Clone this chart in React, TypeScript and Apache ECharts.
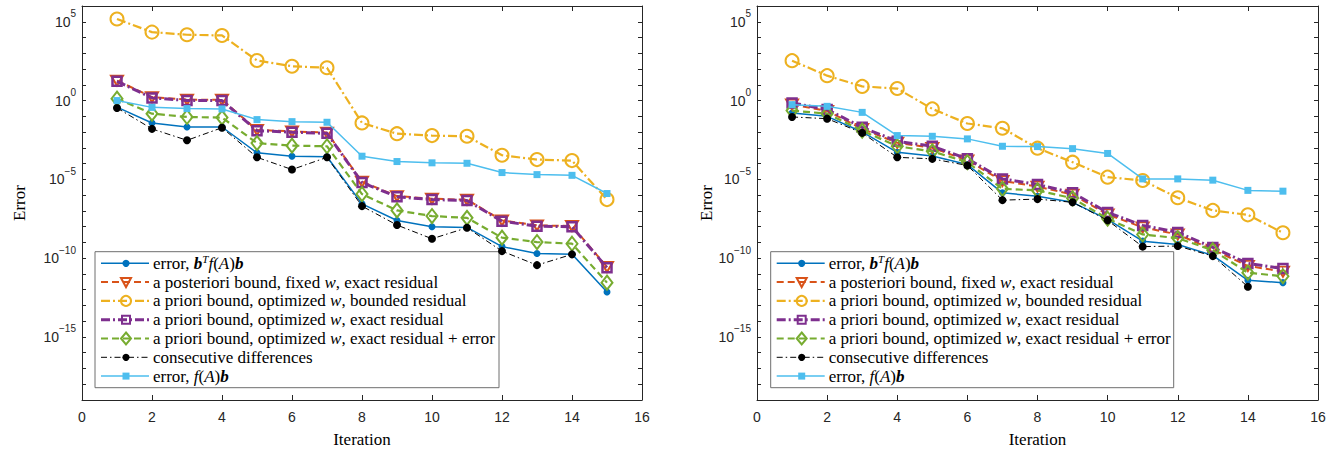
import React, { useEffect, useRef } from 'react';
import * as echarts from 'echarts';

// ---------------- data ----------------
const iterations = [1, 2, 3, 4, 5, 6, 7, 8, 9, 10, 11, 12, 13, 14, 15];
const iterationsDiff = [1, 2, 3, 4, 5, 6, 7, 8, 9, 10, 11, 12, 13, 14];

// left panel
const leftErrBfb = [3.8e-1, 3.8e-2, 2.1e-2, 2.1e-2, 4.8e-4, 2.95e-4, 2.7e-4, 2.8e-7, 2.45e-8, 9.8e-9, 8.9e-9, 5.4e-10, 2.0e-10, 1.8e-10, 7.1e-13];
const leftPostFixed = [18.6, 1.66, 1.15, 1.12, 1.38e-2, 1.1e-2, 9.3e-3, 7.1e-6, 8.7e-7, 5.9e-7, 5.1e-7, 2.5e-8, 1.2e-8, 1.1e-8, 2.8e-11];
const leftPrioriBounded = [1.5e5, 2.2e4, 1.5e4, 1.35e4, 3.5e2, 1.5e2, 1.2e2, 3.8e-2, 7.9e-3, 6.0e-3, 5.4e-3, 3.4e-4, 1.8e-4, 1.55e-4, 5.2e-7];
const leftPrioriExact = [16.6, 1.48, 1.02, 1.0, 1.23e-2, 9.8e-3, 8.3e-3, 6.3e-6, 7.8e-7, 5.2e-7, 4.6e-7, 2.2e-8, 1.07e-8, 9.8e-9, 2.5e-11];
const leftPrioriExactErr = [1.32, 1.48e-1, 9.1e-2, 8.3e-2, 2.0e-3, 1.38e-3, 1.26e-3, 1.17e-6, 1.07e-7, 4.7e-8, 3.6e-8, 2.0e-9, 1.05e-9, 8.3e-10, 2.8e-12];
const leftConsecDiff = [3.4e-1, 1.6e-2, 3.0e-3, 1.9e-2, 2.5e-4, 4.2e-5, 2.5e-4, 2.0e-7, 1.26e-8, 1.7e-9, 8.5e-9, 2.8e-10, 3.6e-11, 1.74e-10];
const leftErrFb = [1.0, 3.7e-1, 3.1e-1, 2.95e-1, 6.2e-2, 4.6e-2, 4.2e-2, 2.95e-4, 1.35e-4, 1.12e-4, 1.05e-4, 2.7e-5, 2.0e-5, 1.8e-5, 1.26e-6];

// right panel
const rightErrBfb = [1.6e-1, 1.0e-1, 1.02e-2, 5.2e-4, 3.0e-4, 8.7e-5, 1.4e-6, 8.5e-7, 3.5e-7, 2.9e-8, 1.2e-9, 7.4e-10, 1.5e-10, 3.9e-12, 2.8e-12];
const rightPostFixed = [5.6e-1, 2.2e-1, 1.6e-2, 2.1e-3, 1.0e-3, 1.6e-4, 7.9e-6, 3.5e-6, 1.07e-6, 6.0e-8, 8.9e-9, 3.2e-9, 3.5e-10, 3.2e-11, 1.4e-11];
const rightPrioriBounded = [3.4e2, 38, 7.9, 5.8, 2.95e-1, 3.5e-2, 1.74e-2, 9.5e-4, 1.23e-4, 1.38e-5, 8.5e-6, 6.8e-7, 1.07e-7, 5.6e-8, 4.1e-9];
const rightPrioriExact = [7.1e-1, 2.7e-1, 2.0e-2, 2.6e-3, 1.26e-3, 2.0e-4, 1.07e-5, 4.7e-6, 1.4e-6, 7.9e-8, 1.2e-8, 4.3e-9, 4.8e-10, 4.6e-11, 2.2e-11];
const rightPrioriExactErr = [2.3e-1, 1.48e-1, 1.23e-2, 1.26e-3, 6.0e-4, 1.23e-4, 2.5e-6, 2.0e-6, 6.3e-7, 3.2e-8, 3.2e-9, 1.86e-9, 3.2e-10, 1.2e-11, 7.1e-12];
const rightConsecDiff = [9.1e-2, 7.1e-2, 8.9e-3, 2.5e-4, 2.0e-4, 7.6e-5, 4.8e-7, 5.6e-7, 3.5e-7, 2.5e-8, 5.4e-10, 5.9e-10, 1.35e-10, 1.55e-12];
const rightErrFb = [5.5e-1, 4.3e-1, 1.78e-1, 6.0e-3, 5.4e-3, 3.7e-3, 1.26e-3, 1.2e-3, 8.9e-4, 4.4e-4, 1.07e-5, 1.07e-5, 8.9e-6, 2.0e-6, 1.78e-6];

const seriesNames = [
  'error, bᵀf(A)b',
  'a posteriori bound, fixed w, exact residual',
  'a priori bound, optimized w, bounded residual',
  'a priori bound, optimized w, exact residual',
  'a priori bound, optimized w, exact residual + error',
  'consecutive differences',
  'error, f(A)b',
];
const legendRich = [
  '{n|error, }{bi|b}{sup|T}{i|f}{n|(}{i|A}{n|)}{bi|b}',
  '{n|a posteriori bound, fixed }{i|w}{n|, exact residual}',
  '{n|a priori bound, optimized }{i|w}{n|, bounded residual}',
  '{n|a priori bound, optimized }{i|w}{n|, exact residual}',
  '{n|a priori bound, optimized }{i|w}{n|, exact residual + error}',
  '{n|consecutive differences}',
  '{n|error, }{i|f}{n|(}{i|A}{n|)}{bi|b}',
];

// ---------------- styles ----------------
const AX = '#262626';
const SANS = 'Liberation Sans, Arial, Helvetica, sans-serif';
const SERIF = 'Liberation Serif, Times New Roman, serif';
const LFS = 17;

type Spec = {
  color: string; width: number; dash: number[] | 'solid';
  symbol: string; size: number | number[]; rotate?: number; hollow: boolean; border?: number;
};
const specs: Spec[] = [
  { color: '#0072BD', width: 1.5, dash: 'solid', symbol: 'circle', size: 7, hollow: false },
  { color: '#D95319', width: 2, dash: [7, 4], symbol: 'triangle', size: [12, 10], rotate: 180, hollow: true, border: 2 },
  { color: '#EDB120', width: 2.2, dash: [9, 3, 2, 3], symbol: 'circle', size: 13, hollow: true, border: 2 },
  { color: '#7E2F8E', width: 3, dash: [9, 3, 2, 3], symbol: 'rect', size: 9, hollow: true, border: 2.5 },
  { color: '#77AC30', width: 2.2, dash: [7, 4], symbol: 'diamond', size: [11, 14], hollow: true, border: 2 },
  { color: '#000000', width: 1, dash: [6, 3, 1.5, 3], symbol: 'circle', size: 8, hollow: false },
  { color: '#4DBEEE', width: 1.5, dash: 'solid', symbol: 'rect', size: 7, hollow: false },
];

const leftData = [leftErrBfb, leftPostFixed, leftPrioriBounded, leftPrioriExact, leftPrioriExactErr, leftConsecDiff, leftErrFb];
const rightData = [rightErrBfb, rightPostFixed, rightPrioriBounded, rightPrioriExact, rightPrioriExactErr, rightConsecDiff, rightErrFb];

function makeSeries(data: number[][], axisIdx: number) {
  return data.map((vals, k) => {
    const s = specs[k];
    const xs = vals.length === iterations.length ? iterations : iterationsDiff;
    return {
      type: 'line',
      name: seriesNames[k],
      xAxisIndex: axisIdx,
      yAxisIndex: axisIdx,
      data: vals.map((v, i) => [xs[i], v]),
      symbol: s.symbol,
      symbolSize: s.size,
      symbolRotate: s.rotate || 0,
      showAllSymbol: true,
      lineStyle: { color: s.color, width: s.width, type: s.dash },
      itemStyle: s.hollow
        ? { color: 'rgba(255,255,255,0)', borderColor: s.color, borderWidth: s.border }
        : { color: s.color, borderWidth: 0 },
      emphasis: { disabled: true },
      silent: true,
      z: 2 + k * 0.01,
    };
  });
}

const yLabelFormatter = (v: number) => {
  const e = Math.round(Math.log10(v));
  if (e % 5 !== 0) return '';
  const s = e < 0 ? '\u2212' + String(-e) : String(e);
  return `{b|10}{s|${s}}`;
};

function xAxes(gridIndex: number) {
  const common = {
    type: 'value', gridIndex, min: 0, max: 16, interval: 2,
    axisLine: { show: true, onZero: false, lineStyle: { color: AX, width: 1 } },
    axisTick: { show: true, inside: true, length: 5, lineStyle: { color: AX } },
    splitLine: { show: false },
  };
  return [
    {
      ...common, position: 'bottom',
      axisLabel: { show: true, color: AX, fontFamily: SANS, fontSize: 14, margin: 10 },
      name: 'Iteration', nameLocation: 'middle', nameGap: 31,
      nameTextStyle: { fontFamily: SERIF, fontSize: 17, color: '#000' },
    },
    { ...common, position: 'top', axisLabel: { show: false } },
  ];
}

function yAxes(gridIndex: number, nameGap: number) {
  const common = {
    type: 'log', logBase: 10, gridIndex, min: 1e-19, max: 1e6, interval: 1,
    axisLine: { show: true, onZero: false, lineStyle: { color: AX, width: 1 } },
    axisTick: { show: true, inside: true, length: 4, lineStyle: { color: AX } },
    splitLine: { show: false },
  };
  return [
    {
      ...common, position: 'left',
      axisLabel: {
        show: true, margin: 6, formatter: yLabelFormatter,
        rich: {
          b: { fontFamily: SANS, fontSize: 14, color: AX, lineHeight: 26, verticalAlign: 'middle' },
          s: { fontFamily: SANS, fontSize: 10, color: AX, lineHeight: 10, verticalAlign: 'top' },
        },
      },
      name: 'Error', nameLocation: 'middle', nameGap, nameRotate: 90,
      nameTextStyle: { fontFamily: SERIF, fontSize: 17, color: '#000' },
    },
    { ...common, position: 'right', axisLabel: { show: false } },
  ];
}

const legendTextRich = {
  n: { fontFamily: SERIF, fontSize: LFS, fill: '#000', lineHeight: 20, verticalAlign: 'middle' },
  i: { fontFamily: SERIF, fontSize: LFS, fill: '#000', fontStyle: 'italic', lineHeight: 20, verticalAlign: 'middle' },
  bi: { fontFamily: SERIF, fontSize: LFS, fill: '#000', fontStyle: 'italic', fontWeight: 'bold', lineHeight: 20, verticalAlign: 'middle' },
  sup: { fontFamily: SERIF, fontSize: 11, fill: '#000', fontStyle: 'italic', lineHeight: 9, verticalAlign: 'top' },
};

const legendMarkers = [
  { type: 'circle', r: 3.6, hollow: false },
  { type: 'tri', r: 5, hollow: true },
  { type: 'circle', r: 5, hollow: true },
  { type: 'square', r: 4, hollow: true },
  { type: 'diamond', r: 5, hollow: true },
  { type: 'circle', r: 3.6, hollow: false },
  { type: 'square', r: 3.5, hollow: false },
];

function legendGraphic(x0: number, y0: number, w: number) {
  const children: any[] = [
    { type: 'rect', shape: { x: 0, y: 0, width: w, height: 136 }, style: { fill: '#fff', stroke: '#6e6e6e', lineWidth: 1 } },
  ];
  specs.forEach((s, k) => {
    const cy = 11.6 + 18.8 * k;
    const mx = 31;
    children.push({
      type: 'line', shape: { x1: 6, y1: cy, x2: 54, y2: cy },
      style: { stroke: s.color, lineWidth: s.width, lineDash: s.dash === 'solid' ? null : s.dash },
    });
    const m = legendMarkers[k];
    const st = m.hollow
      ? { fill: 'none', stroke: s.color, lineWidth: 2 }
      : { fill: s.color, stroke: 'none' };
    if (m.type === 'circle') {
      children.push({ type: 'circle', shape: { cx: mx, cy, r: m.r }, style: st });
    } else if (m.type === 'square') {
      children.push({ type: 'rect', shape: { x: mx - m.r, y: cy - m.r, width: 2 * m.r, height: 2 * m.r }, style: st });
    } else if (m.type === 'tri') {
      children.push({ type: 'polygon', shape: { points: [[mx - m.r, cy - m.r * 0.8], [mx + m.r, cy - m.r * 0.8], [mx, cy + m.r]] }, style: st });
    } else {
      children.push({ type: 'polygon', shape: { points: [[mx, cy - m.r * 1.2], [mx + m.r, cy], [mx, cy + m.r * 1.2], [mx - m.r, cy]] }, style: st });
    }
    children.push({
      type: 'text', x: 58, y: cy,
      style: { text: legendRich[k], rich: legendTextRich, fill: '#000', font: `${LFS}px ${SERIF}`, verticalAlign: 'middle', align: 'left' },
    });
  });
  return { type: 'group', x: x0, y: y0, z: 100, children };
}

const option: any = {
  animation: false,
  backgroundColor: '#ffffff',
  grid: [
    { left: 82, top: 6, width: 560, height: 394, show: false },
    { left: 757, top: 6, width: 561, height: 394, show: false },
  ],
  xAxis: [...xAxes(0), ...xAxes(1)],
  yAxis: [...yAxes(0, 54), ...yAxes(1, 32)],
  series: [...makeSeries(leftData, 0), ...makeSeries(rightData, 2)],
  graphic: [legendGraphic(95, 251.7, 404), legendGraphic(770.7, 251.7, 403)],
};
option.xAxis.forEach((a: any, i: number) => { a.gridIndex = i < 2 ? 0 : 1; });
option.yAxis.forEach((a: any, i: number) => { a.gridIndex = i < 2 ? 0 : 1; });

export default function App() {
  const ref = useRef<HTMLDivElement>(null);
  useEffect(() => {
    document.body.style.margin = '0';
    const chart = echarts.init(ref.current as HTMLDivElement, null, { renderer: 'svg' });
    chart.setOption(option);
    return () => chart.dispose();
  }, []);
  return (
    <div
      ref={ref}
      style={{ position: 'absolute', left: 0, top: 0, width: 1341, height: 454, background: '#fff' }}
    />
  );
}
